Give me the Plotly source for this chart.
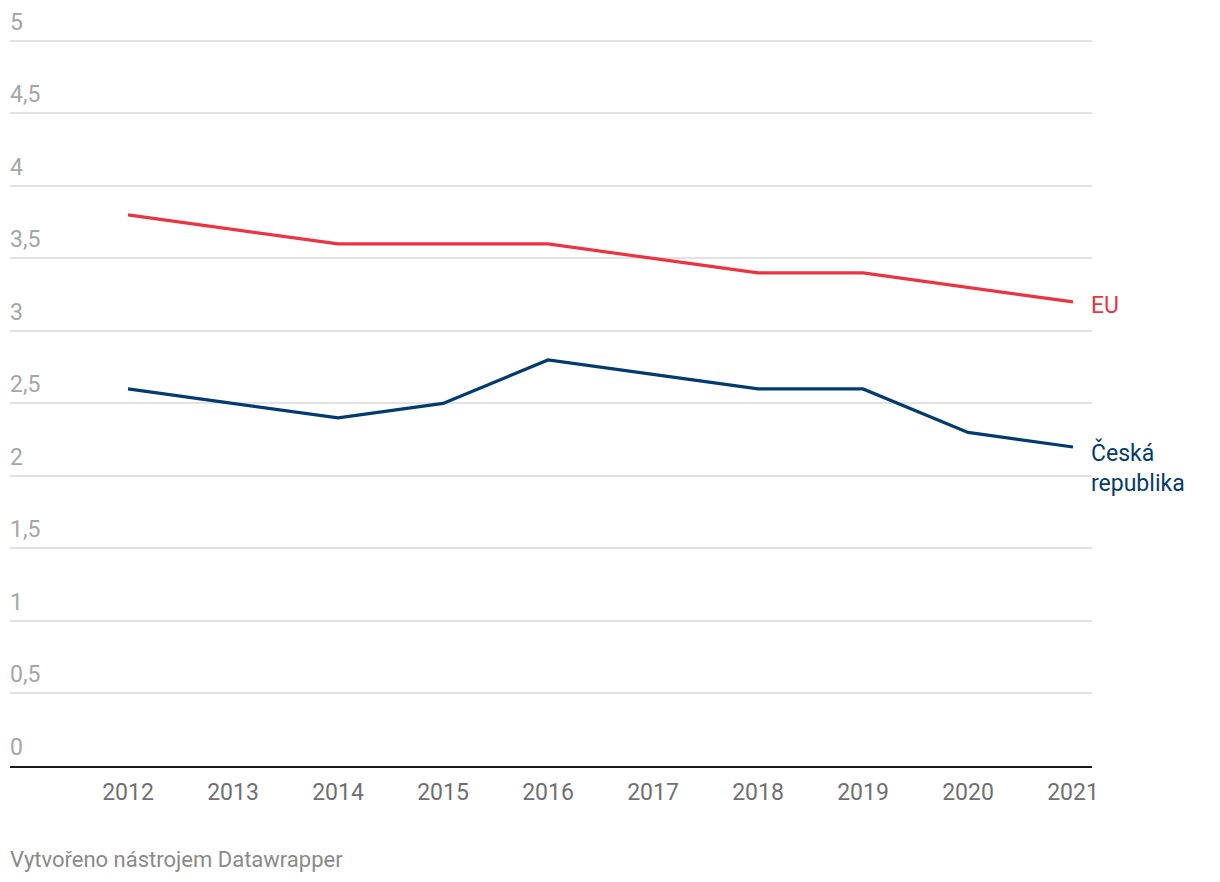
import plotly.graph_objects as go

years = [2012, 2013, 2014, 2015, 2016, 2017, 2018, 2019, 2020, 2021]
eu = [3.8, 3.7, 3.6, 3.6, 3.6, 3.5, 3.4, 3.4, 3.3, 3.2]
cz = [2.6, 2.5, 2.4, 2.5, 2.8, 2.7, 2.6, 2.6, 2.3, 2.2]
y_ticks = [0, 0.5, 1, 1.5, 2, 2.5, 3, 3.5, 4, 4.5, 5]
y_tick_labels = ["0", "0,5", "1", "1,5", "2", "2,5", "3", "3,5", "4", "4,5", "5"]
series_names = ["EU", "Česká<br>republika"]

RED = "#ec3341"
BLUE = "#023b6f"
FONT = "Roboto"

fig = go.Figure()
fig.add_trace(go.Scatter(x=years, y=eu, mode="lines", line=dict(color=RED, width=3.2),
                         hoverinfo="skip", showlegend=False))
fig.add_trace(go.Scatter(x=years, y=cz, mode="lines", line=dict(color=BLUE, width=3.2),
                         hoverinfo="skip", showlegend=False))

annotations = []
for v, lab in zip(y_ticks, y_tick_labels):
    annotations.append(dict(x=0, xref="paper", y=v, yref="y", text=lab, showarrow=False,
                            xanchor="left", yanchor="bottom", yshift=3, xshift=-2,
                            font=dict(family=FONT, size=23, color="#a6a6a6")))
annotations.append(dict(x=years[-1], y=eu[-1], xref="x", yref="y", text=series_names[0],
                        showarrow=False, xanchor="left", yanchor="middle", xshift=16, yshift=-4,
                        font=dict(family=FONT, size=23, color=RED)))
annotations.append(dict(x=years[-1], y=cz[-1], xref="x", yref="y", text=series_names[1],
                        showarrow=False, xanchor="left", yanchor="top", xshift=16, yshift=11,
                        align="left",
                        font=dict(family=FONT, size=23, color=BLUE)))
annotations.append(dict(x=0, xref="paper", y=-0.128, yref="paper",
                        text="Vytvořeno nástrojem Datawrapper", showarrow=False,
                        xanchor="left", yanchor="middle", xshift=-2,
                        font=dict(family=FONT, size=22, color="#8a8a8a")))

# page body has an 8px default margin; compensate so the plot lands where intended
fig.update_layout(
    width=1212, height=874,
    margin=dict(l=2, r=128, t=30, b=116),
    paper_bgcolor="white", plot_bgcolor="white",
    xaxis=dict(range=[2010.876, 2021.181], tickvals=years, ticktext=[str(y) for y in years],
               showgrid=False, zeroline=False, showline=True, linecolor="#1a1a1a", linewidth=2,
               ticks="", ticklabelstandoff=4,
               tickfont=dict(family=FONT, size=23, color="#707070"), fixedrange=True),
    yaxis=dict(range=[0, 5.02], tickvals=y_ticks, showticklabels=False, showgrid=True,
               gridcolor="#e2e2e2", gridwidth=2, zeroline=False, fixedrange=True),
    annotations=annotations,
    font=dict(family=FONT),
)

fig.write_html("out.html")
